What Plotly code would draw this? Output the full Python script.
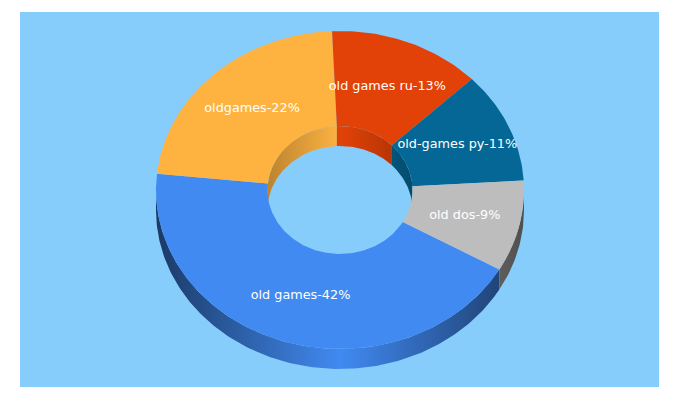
"""
Keyword share 3D donut, drawn with scatter polygons
"""
import math
import plotly.graph_objects as go

# ========================================================
labels = ["old games", "oldgames", "old games ru", "old-games py", "old dos"]
values = [42, 22, 13, 11, 9]
colors = ["#418af2", "#feb341", "#e24207", "#056795", "#bebdbd"]

START_ANGLE = 120  # clockwise from 12 o'clock
CX, CY = 340, 190
RX, RY = 184, 159
HOLE_RX, HOLE_RY = 72.5, 64
DEPTH = 20
BG = "#87cdfc"


# ========================================================
def point(angle, rx, ry, dy=0):
    rad = math.radians(angle)
    return CX + rx * math.sin(rad), CY + dy - ry * math.cos(rad)


def arc(a0, a1, rx, ry, dy=0, step=1.0):
    n = max(2, int(abs(a1 - a0) / step) + 1)
    pts = [point(a0 + (a1 - a0) * i / n, rx, ry, dy) for i in range(n + 1)]
    return [p[0] for p in pts], [p[1] for p in pts]


def shade(color, factor):
    r, g, b = [int(color[i:i + 2], 16) for i in (1, 3, 5)]
    return f"rgb({r * factor:.0f},{g * factor:.0f},{b * factor:.0f})"


def polygon(xs, ys, color):
    return go.Scatter(
        x=xs + xs[:1], y=ys + ys[:1], mode="lines", fill="toself",
        fillcolor=color, line=dict(color=color, width=0),
        hoverinfo="skip", showlegend=False)


def wall(a0, a1, rx, ry, col, edge_factor):
    # one side of the ring, dark at both edges and full colour in the middle
    xt, yt = arc(a0, a1, rx, ry)
    xb, yb = arc(a1, a0, rx, ry, DEPTH)
    xs, ys = xt + xb, yt + yb
    dark = shade(col, edge_factor)
    return go.Scatter(
        x=xs + xs[:1], y=ys + ys[:1], mode="lines", fill="toself",
        fillgradient=dict(
            type="horizontal", start=CX - rx, stop=CX + rx,
            colorscale=[[0, dark], [0.5, shade(col, 1)], [1, dark]]),
        line=dict(color="rgba(0,0,0,0)", width=0),
        hoverinfo="skip", showlegend=False)


# ========================================================
total = sum(values)
spans = []
a = START_ANGLE
for v in values:
    spans.append((a, a + v / total * 360))
    a += v / total * 360

fig = go.Figure()

# outer wall, front half only (90 to 270 degrees)
for (a0, a1), col in zip(spans, colors):
    for k in (0, 360):
        lo, hi = max(a0 - k, 90), min(a1 - k, 270)
        if hi > lo:
            fig.add_trace(wall(lo, hi, RX, RY, col, 0.42))

# inner wall, back half of the hole (-90 to 90 degrees)
for (a0, a1), col in zip(spans, colors):
    for k in (360, 720):
        lo, hi = max(a0 - k, -90), min(a1 - k, 90)
        if hi > lo:
            fig.add_trace(wall(lo, hi, HOLE_RX, HOLE_RY, col, 0.74))

# top face
for (a0, a1), col in zip(spans, colors):
    xo, yo = arc(a0, a1, RX, RY)
    xi, yi = arc(a1, a0, HOLE_RX, HOLE_RY)
    fig.add_trace(polygon(xo + xi, yo + yi, col))

# labels at the middle of each ring sector
lx, ly, texts = [], [], []
for (a0, a1), name, v in zip(spans, labels, values):
    x, y = point((a0 + a1) / 2, (RX + HOLE_RX) / 2, (RY + HOLE_RY) / 2)
    lx.append(x)
    ly.append(y)
    texts.append(f"{name}-{v}%")
fig.add_trace(go.Scatter(
    x=lx, y=ly, text=texts, mode="text", textposition="middle center",
    textfont=dict(family="DejaVu Sans", size=12.8, color="white"),
    hoverinfo="skip", showlegend=False))

fig.update_layout(
    width=680, height=400,
    margin=dict(l=20, r=21, t=12, b=13, pad=0),
    paper_bgcolor="white", plot_bgcolor=BG,
    xaxis=dict(range=[20, 659], visible=False, fixedrange=True),
    yaxis=dict(range=[387, 12], visible=False, fixedrange=True),
)
fig.write_html("out.html", config={"displayModeBar": False},
               post_script="document.body.style.margin='0';")
